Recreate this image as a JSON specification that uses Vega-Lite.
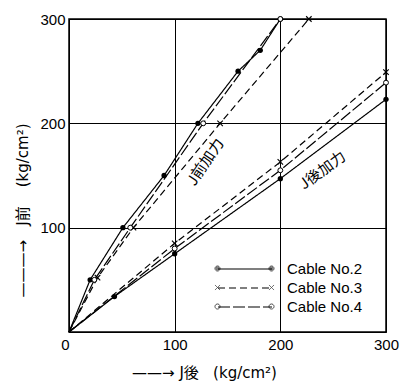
{
  "$schema": "https://vega.github.io/schema/vega-lite/v6.json",
  "width": 317,
  "height": 313,
  "autosize": "none",
  "padding": {"left": 69, "top": 19, "right": 14, "bottom": 51},
  "background": "white",
  "config": {
    "font": "Liberation Sans",
    "view": {"stroke": "black", "strokeWidth": 1.5},
    "axis": {"labelFont": "Liberation Sans", "labelFontSize": 15, "labelColor": "black", "titleColor": "black", "titleFont": "DejaVu Sans, Noto Sans CJK JP", "titleFontSize": 15, "titleFontWeight": "normal", "domain": false, "ticks": false, "gridColor": "black", "gridOpacity": 1, "gridWidth": 1}
  },
  "datasets": {
    "pts": [
      {"cable": "Cable No.2", "group": "前", "x": 0, "y": 0},
      {"cable": "Cable No.2", "group": "前", "x": 20, "y": 50},
      {"cable": "Cable No.2", "group": "前", "x": 51, "y": 100},
      {"cable": "Cable No.2", "group": "前", "x": 90, "y": 150},
      {"cable": "Cable No.2", "group": "前", "x": 122, "y": 200},
      {"cable": "Cable No.2", "group": "前", "x": 160, "y": 250},
      {"cable": "Cable No.2", "group": "前", "x": 181, "y": 270},
      {"cable": "Cable No.2", "group": "前", "x": 200, "y": 300},
      {"cable": "Cable No.3", "group": "前", "x": 0, "y": 0},
      {"cable": "Cable No.3", "group": "前", "x": 27, "y": 52},
      {"cable": "Cable No.3", "group": "前", "x": 61, "y": 100},
      {"cable": "Cable No.3", "group": "前", "x": 143, "y": 200},
      {"cable": "Cable No.3", "group": "前", "x": 227, "y": 300},
      {"cable": "Cable No.4", "group": "前", "x": 0, "y": 0},
      {"cable": "Cable No.4", "group": "前", "x": 24, "y": 50},
      {"cable": "Cable No.4", "group": "前", "x": 58, "y": 100},
      {"cable": "Cable No.4", "group": "前", "x": 127, "y": 200},
      {"cable": "Cable No.4", "group": "前", "x": 200, "y": 300},
      {"cable": "Cable No.2", "group": "後", "x": 0, "y": 0},
      {"cable": "Cable No.2", "group": "後", "x": 43, "y": 34},
      {"cable": "Cable No.2", "group": "後", "x": 100, "y": 75},
      {"cable": "Cable No.2", "group": "後", "x": 200, "y": 147},
      {"cable": "Cable No.2", "group": "後", "x": 300, "y": 223},
      {"cable": "Cable No.3", "group": "後", "x": 0, "y": 0},
      {"cable": "Cable No.3", "group": "後", "x": 100, "y": 85},
      {"cable": "Cable No.3", "group": "後", "x": 200, "y": 163},
      {"cable": "Cable No.3", "group": "後", "x": 300, "y": 249},
      {"cable": "Cable No.4", "group": "後", "x": 0, "y": 0},
      {"cable": "Cable No.4", "group": "後", "x": 100, "y": 80},
      {"cable": "Cable No.4", "group": "後", "x": 200, "y": 155},
      {"cable": "Cable No.4", "group": "後", "x": 300, "y": 239}
    ],
    "labels": [
      {"label": "J前加力", "x": 129, "y": 163, "kind": "front"},
      {"label": "J後加力", "x": 240, "y": 155, "kind": "back"}
    ]
  },
  "layer": [
    {
      "data": {"name": "pts"},
      "mark": {"type": "line", "color": "black", "strokeWidth": 1.2},
      "encoding": {
        "x": {"field": "x", "type": "quantitative", "scale": {"domain": [0, 300], "nice": false}, "axis": {"values": [0, 100, 200, 300], "grid": true, "title": "——→ J後\u00a0\u00a0 (kg/cm²)", "labelPadding": 5, "titleX": 135, "titleY": 40, "titleBaseline": "middle", "labelAlign": {"condition": {"test": "datum.value == 0", "value": "right"}, "value": "center"}}},
        "y": {"field": "y", "type": "quantitative", "scale": {"domain": [0, 300], "nice": false}, "axis": {"values": [0, 100, 200, 300], "grid": true, "title": "———→\u00a0\u00a0 J前\u00a0\u00a0\u00a0 (kg/cm²)", "labelPadding": 4, "labelExpr": "datum.value == 0 ? '' : datum.label", "titleX": -47, "titleY": 191, "titleBaseline": "middle"}},
        "detail": {"field": "group"},
        "strokeDash": {"field": "cable", "type": "nominal", "scale": {"range": [[1, 0], [7, 4], [12, 3]]}, "legend": {"title": null, "orient": "none", "legendX": 166, "legendY": 240, "padding": 0, "symbolType": "M-3,0H3", "symbolSize": 324, "symbolStrokeWidth": 1.2, "symbolStrokeColor": "black", "labelFontSize": 15, "labelFont": "Liberation Sans", "labelColor": "black", "labelOffset": 32, "rowPadding": 1}},
        "order": {"field": "x", "type": "quantitative"}
      }
    },
    {
      "data": {"name": "pts"},
      "transform": [{"filter": "false"}],
      "mark": {"type": "point", "filled": false, "color": "black", "strokeWidth": 1},
      "encoding": {
        "x": {"field": "x", "type": "quantitative"},
        "y": {"field": "y", "type": "quantitative"},
        "shape": {"field": "cable", "type": "nominal", "scale": {"domain": ["Cable No.2", "Cable No.3", "Cable No.4"], "range": [
          "M-3.28,0A0.28,0.28 0 1,0 -2.72,0A0.28,0.28 0 1,0 -3.28,0ZM-3.17,0A0.17,0.17 0 1,0 -2.83,0A0.17,0.17 0 1,0 -3.17,0ZM-3.07,0A0.07,0.07 0 1,0 -2.93,0A0.07,0.07 0 1,0 -3.07,0ZM2.72,0A0.28,0.28 0 1,0 3.28,0A0.28,0.28 0 1,0 2.72,0ZM2.83,0A0.17,0.17 0 1,0 3.17,0A0.17,0.17 0 1,0 2.83,0ZM2.93,0A0.07,0.07 0 1,0 3.07,0A0.07,0.07 0 1,0 2.93,0Z",
          "M-3.28,-0.28L-2.72,0.28M-3.28,0.28L-2.72,-0.28M2.72,-0.28L3.28,0.28M2.72,0.28L3.28,-0.28",
          "M-3.28,0A0.28,0.28 0 1,0 -2.72,0A0.28,0.28 0 1,0 -3.28,0ZM2.72,0A0.28,0.28 0 1,0 3.28,0A0.28,0.28 0 1,0 2.72,0Z"
        ]}, "legend": {"title": null, "orient": "none", "legendX": 166, "legendY": 240, "padding": 0, "symbolSize": 324, "symbolStrokeWidth": 1, "symbolStrokeColor": "black", "symbolFillColor": "white", "symbolDash": [1, 0], "labelFontSize": 15, "labelExpr": "''", "labelOffset": 32, "rowPadding": 1}}
      }
    },
    {
      "data": {"name": "pts"},
      "transform": [{"filter": "datum.x > 0 && datum.cable == 'Cable No.2'"}],
      "mark": {"type": "point", "shape": "circle", "filled": true, "color": "black", "size": 28, "opacity": 1},
      "encoding": {"x": {"field": "x", "type": "quantitative"}, "y": {"field": "y", "type": "quantitative"}}
    },
    {
      "data": {"name": "pts"},
      "transform": [{"filter": "datum.x > 0 && datum.cable == 'Cable No.3'"}],
      "mark": {"type": "point", "shape": "M-1,-1L1,1M-1,1L1,-1", "filled": false, "color": "black", "strokeWidth": 1.1, "size": 30, "opacity": 1},
      "encoding": {"x": {"field": "x", "type": "quantitative"}, "y": {"field": "y", "type": "quantitative"}}
    },
    {
      "data": {"name": "pts"},
      "transform": [{"filter": "datum.x > 0 && datum.cable == 'Cable No.4'"}],
      "mark": {"type": "point", "shape": "circle", "filled": false, "fill": "white", "fillOpacity": 1, "stroke": "black", "strokeWidth": 1, "size": 24, "opacity": 1},
      "encoding": {"x": {"field": "x", "type": "quantitative"}, "y": {"field": "y", "type": "quantitative"}}
    },
    {
      "data": {"name": "labels"},
      "transform": [{"filter": "datum.kind == 'front'"}],
      "mark": {"type": "text", "font": "Noto Sans CJK JP", "fontSize": 15, "angle": 304, "color": "black"},
      "encoding": {"x": {"field": "x", "type": "quantitative"}, "y": {"field": "y", "type": "quantitative"}, "text": {"field": "label"}}
    },
    {
      "data": {"name": "labels"},
      "transform": [{"filter": "datum.kind == 'back'"}],
      "mark": {"type": "text", "font": "Noto Sans CJK JP", "fontSize": 15, "angle": 324, "color": "black"},
      "encoding": {"x": {"field": "x", "type": "quantitative"}, "y": {"field": "y", "type": "quantitative"}, "text": {"field": "label"}}
    }
  ]
}
